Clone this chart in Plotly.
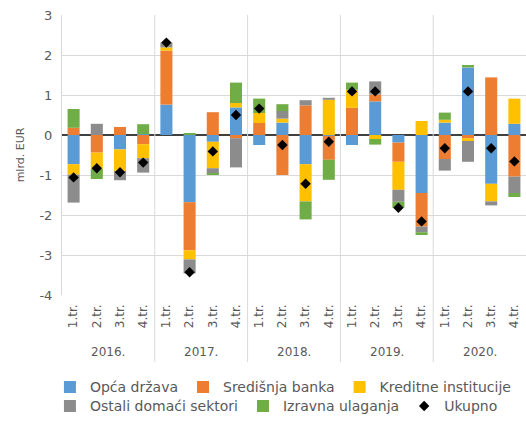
import plotly.graph_objects as go

years = ["2016.", "2017.", "2018.", "2019.", "2020."]
quarters = ["1.tr.", "2.tr.", "3.tr.", "4.tr."]
y_ticks = [-4, -3, -2, -1, 0, 1, 2, 3]

opca_drzava = [-0.73, 0.0, -0.36, 0.02, 0.76, -1.68, -0.17, 0.69,
               -0.25, 0.31, -0.73, -0.02, -0.25, 0.84, -0.19, -1.45,
               0.31, 1.69, -1.22, 0.28]
sredisnja_banka = [0.18, -0.44, 0.20, -0.23, 1.35, -1.20, 0.57, -0.08,
                   0.30, -1.00, 0.74, -0.60, 0.68, 0.17, -0.48, -0.84,
                   -0.60, -0.08, 1.44, -1.04]
kreditne = [-0.26, -0.41, -0.54, -0.35, 0.08, -0.23, -0.66, 0.11,
            0.25, 0.10, -0.93, 0.88, 0.45, -0.10, -0.70, 0.35,
            0.07, -0.07, -0.44, 0.63]
ostali = [-0.70, 0.28, -0.23, -0.36, 0.12, -0.35, -0.14, -0.73,
          0.00, 0.19, 0.13, 0.05, 0.00, 0.33, -0.30, -0.14,
          -0.29, -0.52, -0.10, -0.41]
izravna = [0.47, -0.25, 0.00, 0.25, 0.00, 0.05, -0.02, 0.51,
           0.36, 0.17, -0.45, -0.50, 0.18, -0.14, -0.15, -0.07,
           0.18, 0.06, 0.00, -0.10]
ukupno = [-1.06, -0.83, -0.93, -0.69, 2.31, -3.43, -0.41, 0.50,
          0.66, -0.25, -1.22, -0.17, 1.09, 1.09, -1.82, -2.16,
          -0.33, 1.09, -0.33, -0.66]

series = [
    ("Opća država", opca_drzava, "#5B9BD5", "legend"),
    ("Središnja banka", sredisnja_banka, "#ED7D31", "legend"),
    ("Kreditne institucije", kreditne, "#FFC000", "legend"),
    ("Ostali domaći sektori", ostali, "#8C8C8C", "legend2"),
    ("Izravna ulaganja", izravna, "#70AD47", "legend2"),
]

FONT = "DejaVu Sans, Verdana, sans-serif"
TXT = "#595959"

n = len(years) * len(quarters)
xs = list(range(n))
tick_text = [q for y in years for q in quarters]

fig = go.Figure()
for name, vals, col, leg in series:
    fig.add_trace(go.Bar(x=xs, y=vals, name=name, marker_color=col,
                         marker_line_width=0, legend=leg))
fig.add_trace(go.Scatter(x=xs, y=ukupno, name="Ukupno", mode="markers",
                         legend="legend2",
                         marker=dict(symbol="diamond", size=8, color="black")))

shapes = []
annotations = []
for k, yr in enumerate(years):
    idx = [k * len(quarters) + j for j in range(len(quarters))]
    center = sum(idx) / len(idx)
    annotations.append(dict(x=center, y=-0.205, xref="x", yref="paper",
                            text=yr, showarrow=False,
                            font=dict(size=12, color=TXT, family=FONT),
                            xanchor="center", yanchor="middle"))
    if k > 0:
        bx = idx[0] - 0.5
        shapes.append(dict(type="line", x0=bx, x1=bx, xref="x",
                           y0=-0.24, y1=1, yref="paper",
                           line=dict(color="#D9D9D9", width=1)))

legend_common = dict(orientation="h", xanchor="left", yanchor="bottom",
                     font=dict(size=14, color=TXT, family=FONT),
                     traceorder="normal", itemwidth=30,
                     bgcolor="rgba(0,0,0,0)")

fig.update_layout(
    width=526, height=423,
    margin=dict(l=62, r=0, t=15, b=128),
    plot_bgcolor="white", paper_bgcolor="white",
    barmode="relative", bargap=0.48,
    font=dict(family=FONT, color=TXT),
    shapes=shapes, annotations=annotations,
    legend=dict(x=-0.026, y=-0.387, **legend_common),
    legend2=dict(x=-0.026, y=-0.455, **legend_common),
    showlegend=True,
)
fig.update_xaxes(range=[-0.5, n - 0.5], tickvals=xs, ticktext=tick_text,
                 tickangle=-90, tickfont=dict(size=12, color=TXT, family=FONT),
                 showgrid=False, zeroline=False, showline=False, ticks="",
                 ticklabelstandoff=6, automargin=False)
fig.update_yaxes(range=[-4, 3], tickvals=y_ticks,
                 ticktext=[str(v) for v in y_ticks],
                 showgrid=True, gridcolor="#D9D9D9",
                 zeroline=True, zerolinecolor="#404040", zerolinewidth=1.5,
                 showline=True, linecolor="#D9D9D9", linewidth=1,
                 tickfont=dict(size=13, color=TXT, family=FONT),
                 ticklabelstandoff=6, automargin=False,
                 title=dict(text="mlrd. EUR",
                            font=dict(size=11, color=TXT, family=FONT),
                            standoff=12))

fig.write_html("out.html", config={"displayModeBar": False},
               post_script="document.body.style.margin='0';")
